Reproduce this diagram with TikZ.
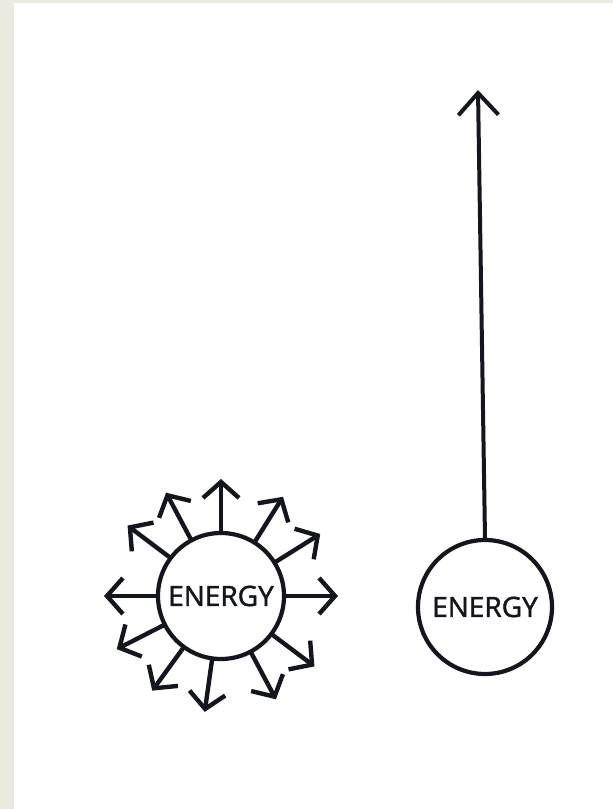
\documentclass[tikz,border=0pt]{standalone}
\usepackage{fontspec}
\setmainfont{Open Sans}
\newfontfamily\labelfont[FakeBold=1.6]{Open Sans}
\usepackage{tikz}
\usetikzlibrary{arrows.meta, calc}
\usepackage{xcolor}
\definecolor{ink}{HTML}{14161F}
\definecolor{paper}{HTML}{ECE9E1}

\begin{document}
\begin{tikzpicture}[x=1pt, y=1pt, every node/.style={font=\labelfont\fontsize{28}{30}\selectfont, text=ink}]
    % page and margins
    \fill[paper] (0,0) rectangle (613,809);
    \fill[white] (14,0) rectangle (613,806);
    \useasboundingbox (0,0) rectangle (613,809);
    \node[circle, draw=ink, line width=4.2pt, minimum size=126pt, inner sep=0pt] (burst) at (221,213) {ENERGY};
    \node[circle, draw=ink, line width=4.2pt, minimum size=134pt, inner sep=0pt] (aimed) at (485,202) {ENERGY};
    \coordinate (top) at (478,719);
    % energy spread out in all directions
    \foreach \a in {0,32,58,90,118,143,180,207,234,262,298,323}
      \draw[-{Straight Barb[length=16pt, width=36pt]}, line width=4.4pt, ink, line cap=round] (burst.\a) -- ($(burst.center)+(\a:117pt)$);
    % energy focused in one direction
    \draw[-{Straight Barb[length=22pt, width=40pt]}, line width=4pt, ink, line cap=round] (aimed.north) -- (top);
  \end{tikzpicture}
\end{document}
